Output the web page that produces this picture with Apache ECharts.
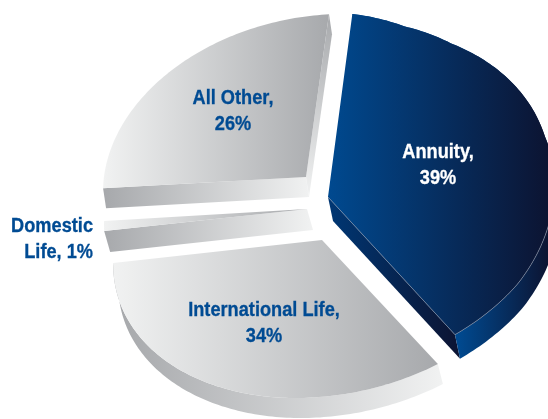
<!DOCTYPE html>
<html>
<head>
<meta charset="utf-8">
<style>html,body{margin:0;padding:0;background:#fff}#chart{width:548px;height:419px}</style>
<script src="https://cdn.jsdelivr.net/npm/echarts@6/dist/echarts.min.js"></script>
</head>
<body>
<div id="chart"></div>
<script>
// Earnings mix, clockwise from the top of the pie
const categories = ['Annuity', 'International Life', 'Domestic Life', 'All Other'];
const shares = [39, 34, 1, 26];

// Perspective view of the pie plane: angle is clockwise from the top
const VIEW = { ax: 22.45, ay: -168.9, bx: 213.6, by: -2.1, p: -0.0239, q: -0.0561 };
const project = (deg) => {
  const r = deg * Math.PI / 180, c = Math.cos(r), s = Math.sin(r);
  const w = 1 + VIEW.p * c + VIEW.q * s;
  return [(VIEW.ax * c + VIEW.bx * s) / w, (VIEW.ay * c + VIEW.by * s) / w];
};

const GREY_D = '#a7a9ac', GREY_L = '#f1f2f2', BLUE = '#00498f', NAVY = '#0c1432', INK = '#004b93';
const hGrad = (x0, x1, from, to) => new echarts.graphic.LinearGradient(x0, 0, x1, 0,
  [{ offset: 0, color: from }, { offset: 1, color: to }], true);
const vGrad = (y0, y1, from, to) => new echarts.graphic.LinearGradient(0, y0, 0, y1,
  [{ offset: 0, color: from }, { offset: 1, color: to }], true);

// Exploded placement and shading of each slice.
// rim: [fraction of sweep, radial factor] pairs that ease the outline along the sweep.
const sliceStyle = [
  { apex: [328, 197], m: [1, 0, 0, 1], depth: [5, 24],
    rim: [[0, 1.058], [0.1, 1.0], [0.2, 0.975], [0.5, 0.975], [0.7, 1.01], [0.85, 1.04], [1, 1.05]],
    top: hGrad(330, 548, BLUE, NAVY),
    walls: [
      { part: 'end', fill: hGrad(332, 459, '#003672', NAVY) },
      { part: 'arc', fill: hGrad(459, 548, BLUE, NAVY) }
    ],
    seam: '#8d97ab',
    label: { x: 438, y: 165, align: 'center', color: '#ffffff', lines: (n, v) => n + ',\n' + v + '%' } },
  { apex: [322, 240], m: [1.023, -0.06, -0.01, 0.956], depth: [5, 20],
    top: hGrad(113, 438, GREY_L, GREY_D),
    walls: [{ part: 'arc', fill: hGrad(120, 443, GREY_D, GREY_L) }],
    label: { x: 264, y: 323.5, align: 'center', color: INK, lines: (n, v) => n + ',\n' + v + '%' } },
  { apex: [307, 209], m: [1, 0, 0, 1], depth: [6, 21],
    top: hGrad(104, 307, GREY_L, GREY_D),
    walls: [{ part: 'start', fill: hGrad(104, 313, GREY_D, GREY_L) }],
    label: { x: 93, y: 239.5, align: 'right', color: INK, lines: (n, v) => n.replace(' ', '\n') + ', ' + v + '%' } },
  { apex: [306, 177], m: [1, 0, 0, 0.94], depth: [3, 20],
    top: hGrad(103, 329, GREY_L, GREY_D),
    walls: [
      { part: 'start', fill: hGrad(105, 310, GREY_D, GREY_L) },
      { part: 'end', fill: vGrad(14, 197, GREY_D, GREY_L) }
    ],
    label: { x: 233, y: 111.5, align: 'center', color: INK, lines: (n, v) => n + ',\n' + v + '%' } }
];

const total = shares.reduce((a, b) => a + b, 0);
const starts = shares.map((_, i) => shares.slice(0, i).reduce((a, b) => a + b, 0) / total * 360);

const rimFactor = (rim, f) => {
  if (!rim) return 1;
  for (let k = 1; k < rim.length; k++) {
    if (f <= rim[k][0]) {
      const t = (f - rim[k - 1][0]) / (rim[k][0] - rim[k - 1][0]);
      return rim[k - 1][1] + (rim[k][1] - rim[k - 1][1]) * t;
    }
  }
  return rim[rim.length - 1][1];
};

function renderSlice(params, api) {
  const i = api.value(0);
  const st = sliceStyle[i];
  const a0 = starts[i];
  const a1 = a0 + shares[i] / total * 360;
  const place = (deg) => {
    const v = project(deg);
    const g = rimFactor(st.rim, (deg - a0) / (a1 - a0));
    return [st.apex[0] + g * (st.m[0] * v[0] + st.m[1] * v[1]), st.apex[1] + g * (st.m[2] * v[0] + st.m[3] * v[1])];
  };
  const drop = (pt) => [pt[0] + st.depth[0], pt[1] + st.depth[1]];
  const arc = [];
  const steps = Math.max(2, Math.ceil(a1 - a0));
  for (let k = 0; k <= steps; k++) arc.push(place(a0 + (a1 - a0) * k / steps));

  const children = [];
  st.walls.forEach((w) => {
    let rim;
    if (w.part === 'arc') rim = arc;
    else if (w.part === 'start') rim = [st.apex, arc[0]];
    else rim = [st.apex, arc[arc.length - 1]];
    const poly = rim.concat(rim.slice().reverse().map(drop));
    children.push({ type: 'polygon', shape: { points: poly }, style: { fill: w.fill }, silent: true });
  });
  children.push({ type: 'polygon', shape: { points: [st.apex].concat(arc) }, style: { fill: st.top } });
  if (st.seam) {
    const edge = [st.apex].concat(arc.slice().reverse());
    children.push({ type: 'polyline', shape: { points: edge.slice(0, 60) },
      style: { stroke: st.seam, lineWidth: 0.6, fill: 'none' } });
  }
  const lb = st.label;
  children.push({ type: 'text', x: lb.x, y: lb.y, scaleX: 0.91, scaleY: 1.05, style: {
    x: 0, y: 0, text: lb.lines(categories[i], shares[i]),
    fill: lb.color, stroke: lb.color, lineWidth: 0.3,
    font: 'bold 20px "Liberation Sans", sans-serif',
    lineHeight: 25, textAlign: lb.align, textVerticalAlign: 'middle'
  } });
  return { type: 'group', children };
}

const chart = echarts.init(document.getElementById('chart'), null, { renderer: 'canvas' });
chart.setOption({
  animation: false,
  backgroundColor: '#ffffff',
  series: [{
    type: 'custom',
    coordinateSystem: 'none',
    renderItem: renderSlice,
    data: categories.map((name, i) => ({ name, value: [i, shares[i]] }))
  }]
});
</script>
</body>
</html>
